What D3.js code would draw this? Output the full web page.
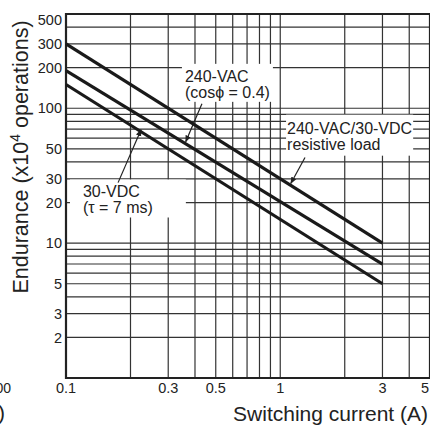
<!DOCTYPE html>
<html>
<head>
<meta charset="utf-8">
<script src="https://cdn.jsdelivr.net/npm/d3@7"></script>
<style>
  body { margin: 0; background: #fff; }
  svg { display: block; font-family: "Liberation Sans", Arial, sans-serif; }
</style>
</head>
<body>
<div id="chart"></div>
<script>
// switching current (A) for the end points of each curve
const current = [0.1, 3];
// endurance, x10^4 operations
const resistiveLoad = [300, 10];
const vacInductive = [190, 7];
const vdcInductive = [150, 5];

const xTicks = [0.1, 0.3, 0.5, 1, 3, 5];
const yTicks = [500, 300, 200, 100, 50, 30, 20, 10, 5, 3, 2];
const xGrid = [0.2, 0.3, 0.4, 0.5, 0.6, 0.7, 0.8, 0.9, 1, 2, 3, 4];
const yGrid = [2, 3, 4, 5, 6, 7, 8, 9, 10, 20, 30, 40, 50, 60, 70, 80, 90, 100, 200, 300, 400];

var width = 430;
var height = 425;
var plotL = 66, plotR = 430, plotT = 14, plotB = 378;

var svg = d3.select("#chart")
    .append("svg")
    .attr("width", width)
    .attr("height", height);

var x = d3.scaleLog().domain([0.1, 5]).range([plotL, plotR]);
var y = d3.scaleLog().domain([1, 500]).range([plotB, plotT]);

var ink = "#222";

// grid
svg.selectAll(".vgrid")
    .data(xGrid)
    .enter()
    .append("line")
    .attr("x1", function(d) { return x(d); })
    .attr("x2", function(d) { return x(d); })
    .attr("y1", plotT)
    .attr("y2", plotB)
    .attr("stroke", "#333")
    .attr("stroke-width", 1.2);

svg.selectAll(".hgrid")
    .data(yGrid)
    .enter()
    .append("line")
    .attr("x1", plotL)
    .attr("x2", plotR)
    .attr("y1", function(d) { return y(d); })
    .attr("y2", function(d) { return y(d); })
    .attr("stroke", "#333")
    .attr("stroke-width", 1.2);

// frame
svg.append("path")
    .attr("d", "M" + plotR + "," + plotT + "H" + plotL + "V" + plotB + "H" + plotR + "Z")
    .attr("fill", "none")
    .attr("stroke", ink)
    .attr("stroke-width", 2.2);

// tick labels
svg.selectAll(".ylab")
    .data(yTicks)
    .enter()
    .append("text")
    .attr("x", 62)
    .attr("y", function(d) { return Math.max(y(d), plotT + 6); })
    .attr("dy", "0.36em")
    .attr("text-anchor", "end")
    .attr("font-size", 14.5)
    .attr("fill", ink)
    .text(function(d) { return d; });

svg.selectAll(".xlab")
    .data(xTicks)
    .enter()
    .append("text")
    .attr("x", function(d) { return Math.min(x(d), 425); })
    .attr("y", 393)
    .attr("text-anchor", "middle")
    .attr("font-size", 14.5)
    .attr("fill", ink)
    .text(function(d) { return d; });

// axis titles
var ytitle = svg.append("text")
    .attr("transform", "translate(28,157) rotate(-90)")
    .attr("text-anchor", "middle")
    .attr("font-size", 21.5)
    .attr("fill", ink);
ytitle.append("tspan").text("Endurance (x10");
ytitle.append("tspan").attr("font-size", 14).attr("dy", -8).text("4");
ytitle.append("tspan").attr("dy", 8).text(" operations)");

svg.append("text")
    .attr("x", 428)
    .attr("y", 421)
    .attr("text-anchor", "end")
    .attr("font-size", 21)
    .attr("fill", ink)
    .text("Switching current (A)");

// bits of the neighbouring chart cut off at the left edge
svg.append("text")
    .attr("x", 11).attr("y", 393)
    .attr("text-anchor", "end").attr("font-size", 14).attr("fill", ink)
    .text("100");
svg.append("text")
    .attr("x", 5).attr("y", 420)
    .attr("text-anchor", "end").attr("font-size", 21).attr("fill", ink)
    .text(")");

// annotations: label boxes hide the grid behind them
var notes = [
    { lines: ["240-VAC", "(cos\u03d5 = 0.4)"], at: [0.359, 157], from: [0.431, 108], toX: 0.362, series: vacInductive, pad: [3, 3, 4, 1] },
    { lines: ["30-VDC", "(\u03c4 = 7 ms)"], at: [0.12, 21.8], from: [0.175, 28.1], toX: 0.224, series: vdcInductive, pad: [13, 33, 4, 1] },
    { lines: ["240-VAC/30-VDC", "resistive load"], at: [1.076, 64.8], from: [1.305, 43.1], toX: 1.12, series: resistiveLoad, pad: [1, 1, 5, 3] }
];

function onLine(series, xv) {
    var t = (Math.log(xv) - Math.log(current[0])) / (Math.log(current[1]) - Math.log(current[0]));
    return Math.exp(Math.log(series[0]) + t * (Math.log(series[1]) - Math.log(series[0])));
}

svg.append("defs").append("marker")
    .attr("id", "arrow")
    .attr("viewBox", "0 0 10 10")
    .attr("refX", 9)
    .attr("refY", 5)
    .attr("markerWidth", 7)
    .attr("markerHeight", 7)
    .attr("markerUnits", "userSpaceOnUse")
    .attr("orient", "auto")
    .append("path")
    .attr("d", "M0,1L10,5L0,9Z")
    .attr("fill", ink);

notes.forEach(function(n) {
    var g = svg.append("g");
    var box = g.append("rect").attr("fill", "#fff");
    var t = g.append("text")
        .attr("x", x(n.at[0]))
        .attr("y", y(n.at[1]))
        .attr("font-size", 16)
        .attr("fill", ink);
    n.lines.forEach(function(s, i) {
        t.append("tspan")
            .attr("x", x(n.at[0]))
            .attr("dy", i === 0 ? 0 : 16)
            .text(s);
    });
    var bb = t.node().getBBox();
    box.attr("x", bb.x - n.pad[0])
        .attr("y", bb.y - n.pad[2])
        .attr("width", bb.width + n.pad[0] + n.pad[1])
        .attr("height", bb.height + n.pad[2] + n.pad[3]);

    svg.append("line")
        .attr("x1", x(n.from[0]))
        .attr("y1", y(n.from[1]))
        .attr("x2", x(n.toX))
        .attr("y2", y(onLine(n.series, n.toX)) - 2)
        .attr("stroke", ink)
        .attr("stroke-width", 1.2)
        .attr("marker-end", "url(#arrow)");
});

// endurance curves
var line = d3.line()
    .x(function(d) { return x(d[0]); })
    .y(function(d) { return y(d[1]); });

[resistiveLoad, vacInductive, vdcInductive].forEach(function(s) {
    svg.append("path")
        .datum(current.map(function(c, i) { return [c, s[i]]; }))
        .attr("d", line)
        .attr("fill", "none")
        .attr("stroke", "#1a1a1a")
        .attr("stroke-width", 3.2);
});
</script>
</body>
</html>
